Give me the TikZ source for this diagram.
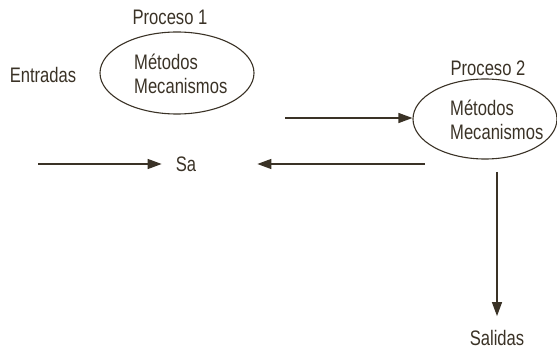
\documentclass[tikz,border=0pt]{standalone}
\usepackage{fontspec}
\setmainfont{Liberation Sans}[FakeStretch=0.79]
\usetikzlibrary{arrows.meta,shapes.geometric}
\definecolor{ink}{RGB}{58,50,38}
\begin{document}
\begin{tikzpicture}[x=1pt,y=-1pt,
  lbl/.style={inner sep=0pt,text=ink,font=\fontsize{21}{24}\selectfont},
  proc/.style={draw=ink,line width=1.1pt,ellipse,inner sep=0pt},
  flow/.style={draw=ink,line width=1.3pt,-{Triangle[length=14pt,width=10pt]}}]
\useasboundingbox (0,0) rectangle (557,350);
% process 1
\node[lbl] (h1) at (170,17) {Proceso 1};
\node[proc,minimum width=154pt,minimum height=82pt] (p1) at (177,73) {};
\node[lbl,align=left,anchor=west] (t1) at (134,74) {Métodos\\Mecanismos};
\node[lbl] (in) at (43,75) {Entradas};
% process 2
\node[lbl] (h2) at (488,68) {Proceso 2};
\node[proc,minimum width=144pt,minimum height=80pt] (p2) at (485,119) {};
\node[lbl,align=left,anchor=west] (t2) at (450,120) {Métodos\\Mecanismos};
% labels
\node[lbl] (sa) at (186,164) {Sa};
\node[lbl] (out) at (497,338) {Salidas};
% free ends
\coordinate (a1) at (38,164);
\coordinate (a2) at (425,164);
\coordinate (a3) at (285,118);
\coordinate (a4) at (497,172);
% connectors
\draw[flow,shorten >=14pt] (a1) -- (a1 -| sa.west);
\draw[flow,shorten >=61pt] (a2) -- (a2 -| sa.east);
\draw[flow] (a3) -- (a3 -| p2.west);
\draw[flow,shorten >=14pt] (a4) -- (a4 |- out.north);
\end{tikzpicture}
\end{document}
